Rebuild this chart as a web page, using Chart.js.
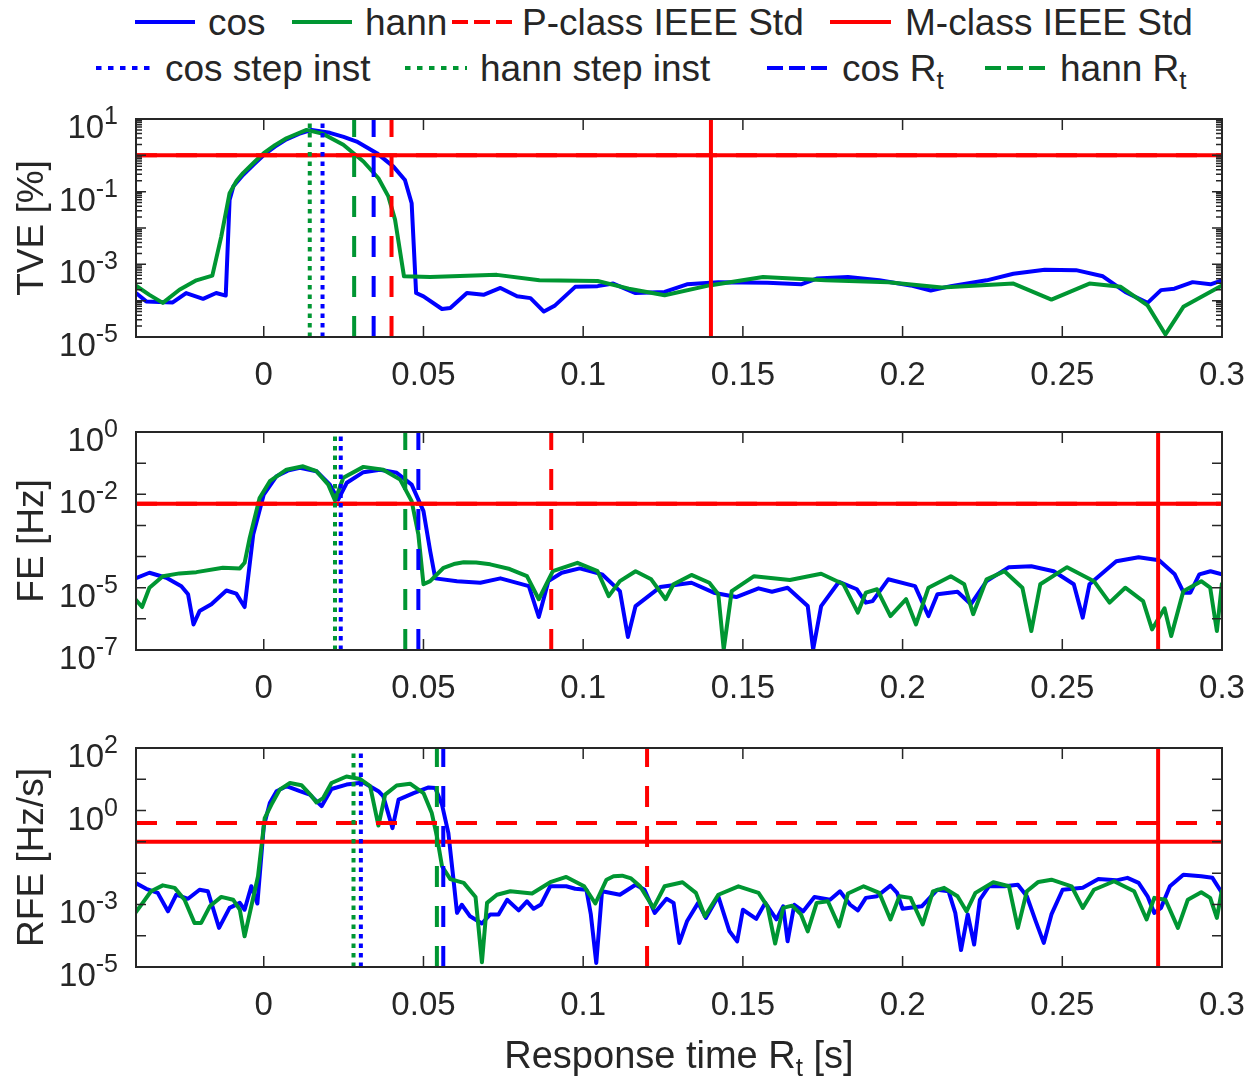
<!DOCTYPE html>
<html lang="en">
<head>
<meta charset="UTF-8">
<title>TVE / FE / RFE response</title>
<script src="https://cdn.jsdelivr.net/npm/chart.js"></script>
<style>
    body { margin: 0; background: #ffffff; }
    #wrap { position: relative; width: 1245px; height: 1081px; overflow: hidden; font-family: "Liberation Sans", Arial, sans-serif; color: #262626; }
    canvas { position: absolute; left: 0; }
    .lg { position: absolute; font-size: 37px; line-height: 37px; white-space: nowrap; }
    .lg sub, #xtitle sub { font-size: 26px; vertical-align: -8px; line-height: 0; }
    #xtitle { position: absolute; left: 136px; width: 1086px; top: 1036px; text-align: center; font-size: 38px; line-height: 38px; white-space: nowrap; }
</style>
</head>
<body>
<div id="wrap">
    <svg width="1245" height="100" style="position:absolute;left:0;top:0">
        <line x1="135" y1="22" x2="195" y2="22" stroke="#0000ff" stroke-width="4"/>
        <line x1="292" y1="22" x2="352" y2="22" stroke="rgb(0,150,50)" stroke-width="4"/>
        <line x1="452" y1="22" x2="512" y2="22" stroke="#ff0000" stroke-width="4" stroke-dasharray="16 6"/>
        <line x1="830" y1="22" x2="891" y2="22" stroke="#ff0000" stroke-width="4"/>
        <line x1="96" y1="68" x2="152" y2="68" stroke="#0000ff" stroke-width="4" stroke-dasharray="5.5 6.5"/>
        <line x1="405" y1="68" x2="467" y2="68" stroke="rgb(0,150,50)" stroke-width="4" stroke-dasharray="5.5 6.5"/>
        <line x1="767" y1="68" x2="828" y2="68" stroke="#0000ff" stroke-width="4" stroke-dasharray="16 6"/>
        <line x1="985" y1="68" x2="1045" y2="68" stroke="rgb(0,150,50)" stroke-width="4" stroke-dasharray="16 6"/>
    </svg>
    <span class="lg" style="left:208px;top:4px">cos</span>
    <span class="lg" style="left:365px;top:4px">hann</span>
    <span class="lg" style="left:522px;top:4px">P-class IEEE Std</span>
    <span class="lg" style="left:905px;top:4px">M-class IEEE Std</span>
    <span class="lg" style="left:165px;top:50px">cos step inst</span>
    <span class="lg" style="left:480px;top:50px">hann step inst</span>
    <span class="lg" style="left:842px;top:50px">cos R<sub>t</sub></span>
    <span class="lg" style="left:1060px;top:50px">hann R<sub>t</sub></span>

    <canvas id="c0" width="1245" height="300" style="top:100px"></canvas>
    <canvas id="c1" width="1245" height="300" style="top:400px"></canvas>
    <canvas id="c2" width="1245" height="381" style="top:700px"></canvas>
    <div id="xtitle">Response time R<sub>t</sub> [s]</div>
</div>

<script>
// ---- data (time in s, values as log10 exponents) ----
const xMin = -0.04, xMax = 0.3;
const xTickVals = [0, 0.05, 0.1, 0.15, 0.2, 0.25, 0.3];
const xTickLabels = ['0', '0.05', '0.1', '0.15', '0.2', '0.25', '0.3'];

const panelTitles = ['TVE [%]', 'FE [Hz]', 'RFE [Hz/s]'];
const yMinExp = [-5, -7, -5];
const yMaxExp = [1, 0, 2];
const yLabelExp = [[1, -1, -3, -5], [0, -2, -5, -7], [2, 0, -3, -5]];

const stepInstCos = [0.0184, 0.0241, 0.0304];
const stepInstHann = [0.0144, 0.0223, 0.0281];
const rtCos = [0.0344, 0.0484, 0.0562];
const rtHann = [0.0283, 0.0443, 0.0542];
const rtPclass = [0.04, 0.09, 0.12];
const rtMclass = [0.14, 0.28, 0.28];
const limitPclass = [1, 0.005, 0.4];
const limitMclass = [1, 0.005, 0.1];

const tveCosT = [-0.040, -0.0368, -0.0285, -0.0243, -0.019, -0.0149, -0.0119, -0.0107, -0.0095, -0.0065, -0.003, 0.0, 0.0035, 0.0071, 0.011, 0.015, 0.0207, 0.025, 0.0291, 0.0354, 0.0406, 0.0442, 0.0463, 0.0477, 0.050, 0.0558, 0.0584, 0.0636, 0.0688, 0.0741, 0.0793, 0.0835, 0.0877, 0.0912, 0.0975, 0.1045, 0.1094, 0.1164, 0.1255, 0.1325, 0.1423, 0.1577, 0.1682, 0.1731, 0.1829, 0.1927, 0.2025, 0.2088, 0.2151, 0.2263, 0.2347, 0.2445, 0.2543, 0.2627, 0.2697, 0.2767, 0.2809, 0.2851, 0.2908, 0.2964, 0.300];
const tveCosExp = [-3.79, -4.02, -4.05, -3.79, -3.95, -3.79, -3.86, -1.23, -0.85, -0.54, -0.24, 0.01, 0.24, 0.44, 0.59, 0.70, 0.62, 0.51, 0.38, 0.06, -0.31, -0.68, -1.32, -3.79, -3.88, -4.23, -4.20, -3.79, -3.84, -3.65, -3.88, -3.93, -4.30, -4.13, -3.62, -3.60, -3.53, -3.79, -3.76, -3.55, -3.49, -3.51, -3.55, -3.39, -3.35, -3.44, -3.58, -3.72, -3.60, -3.44, -3.26, -3.15, -3.16, -3.33, -3.76, -4.06, -3.71, -3.67, -3.49, -3.55, -3.44];

const tveHannT = [-0.040, -0.0358, -0.0316, -0.0264, -0.0211, -0.0161, -0.0133, -0.0107, -0.0085, -0.0065, -0.003, 0.0, 0.0035, 0.0071, 0.0134, 0.0186, 0.0249, 0.0312, 0.0359, 0.039, 0.0411, 0.0439, 0.0521, 0.073, 0.0863, 0.1045, 0.1143, 0.1255, 0.1395, 0.1563, 0.1759, 0.1955, 0.2123, 0.2347, 0.2466, 0.2585, 0.2683, 0.2767, 0.2823, 0.2879, 0.300];
const tveHannExp = [-3.59, -3.84, -4.06, -3.70, -3.44, -3.31, -2.23, -1.04, -0.70, -0.49, -0.19, 0.06, 0.28, 0.47, 0.70, 0.59, 0.29, -0.17, -0.63, -1.13, -1.77, -3.33, -3.35, -3.29, -3.44, -3.46, -3.67, -3.85, -3.58, -3.35, -3.44, -3.49, -3.64, -3.53, -3.97, -3.53, -3.62, -4.13, -4.93, -4.17, -3.58];

const feCosT = [-0.0402, -0.0358, -0.0305, -0.0258, -0.0237, -0.022, -0.0201, -0.0164, -0.0117, -0.0086, -0.006, -0.0033, 0.0, 0.004, 0.0075, 0.0113, 0.0165, 0.0207, 0.0233, 0.026, 0.0312, 0.0364, 0.0416, 0.0463, 0.05, 0.0521, 0.0537, 0.0605, 0.0678, 0.0741, 0.083, 0.0861, 0.0891, 0.0933, 0.0989, 0.1059, 0.1115, 0.114, 0.1164, 0.1241, 0.1339, 0.1409, 0.1479, 0.1549, 0.1591, 0.164, 0.1703, 0.172, 0.1745, 0.1801, 0.1857, 0.1885, 0.1906, 0.1955, 0.2039, 0.2081, 0.2109, 0.2172, 0.2214, 0.2263, 0.2333, 0.2403, 0.2473, 0.2536, 0.2564, 0.2585, 0.2669, 0.2739, 0.2803, 0.2852, 0.288, 0.2901, 0.2929, 0.2964, 0.300];
const feCosExp = [-4.70, -4.52, -4.68, -4.95, -5.21, -6.18, -5.75, -5.53, -5.09, -5.19, -5.62, -3.29, -2.01, -1.42, -1.24, -1.15, -1.26, -1.69, -2.17, -1.63, -1.29, -1.21, -1.31, -1.69, -2.54, -3.82, -4.70, -4.79, -4.84, -4.70, -4.95, -5.94, -4.79, -4.52, -4.38, -4.57, -5.11, -6.58, -5.59, -4.98, -4.84, -5.16, -5.30, -5.02, -5.13, -5.00, -5.59, -6.98, -5.59, -4.81, -5.05, -5.48, -5.43, -4.73, -4.95, -5.91, -5.21, -5.13, -5.53, -4.79, -4.34, -4.31, -4.47, -4.89, -5.96, -4.89, -4.15, -4.02, -4.12, -4.57, -5.16, -5.16, -4.57, -4.47, -4.57];

const feHannT = [-0.0402, -0.0381, -0.0358, -0.0316, -0.0264, -0.0211, -0.0128, -0.0075, -0.006, -0.0044, -0.0013, 0.0019, 0.0071, 0.0123, 0.0165, 0.0202, 0.0223, 0.0249, 0.0312, 0.0374, 0.0427, 0.0463, 0.0484, 0.050, 0.0521, 0.0563, 0.0595, 0.0626, 0.0665, 0.0709, 0.077, 0.0824, 0.0861, 0.0905, 0.0982, 0.1045, 0.108, 0.1115, 0.1164, 0.1213, 0.1258, 0.1283, 0.1339, 0.1395, 0.1423, 0.144, 0.1465, 0.1535, 0.1647, 0.1745, 0.1815, 0.186, 0.1885, 0.192, 0.1962, 0.2011, 0.2042, 0.2081, 0.2151, 0.2193, 0.2221, 0.2263, 0.2319, 0.2375, 0.2403, 0.2431, 0.2515, 0.2599, 0.2648, 0.2697, 0.2753, 0.2781, 0.282, 0.2841, 0.2879, 0.2935, 0.2963, 0.2984, 0.300];
const feHannExp = [-5.37, -5.62, -5.00, -4.63, -4.54, -4.50, -4.36, -4.38, -4.20, -3.40, -2.12, -1.58, -1.21, -1.10, -1.26, -1.69, -2.20, -1.47, -1.12, -1.21, -1.53, -2.22, -3.29, -4.89, -4.79, -4.36, -4.24, -4.18, -4.19, -4.25, -4.40, -4.63, -5.37, -4.47, -4.20, -4.47, -5.27, -4.79, -4.47, -4.73, -5.37, -4.89, -4.59, -4.84, -5.21, -6.98, -5.11, -4.63, -4.75, -4.55, -4.89, -5.80, -5.16, -5.05, -5.91, -5.37, -6.18, -5.00, -4.63, -4.89, -5.85, -4.73, -4.47, -5.00, -6.39, -4.89, -4.34, -4.79, -5.48, -5.00, -5.43, -6.34, -5.66, -6.55, -5.11, -4.79, -5.00, -6.39, -4.84];

const rfeCosT = [-0.0402, -0.0368, -0.0332, -0.03, -0.0274, -0.0237, -0.0201, -0.0175, -0.014, -0.0107, -0.0075, -0.006, -0.0039, -0.002, 0.0, 0.0019, 0.004, 0.0071, 0.0113, 0.0144, 0.0181, 0.0212, 0.0259, 0.0312, 0.0359, 0.0374, 0.0403, 0.0422, 0.0469, 0.0516, 0.0537, 0.0558, 0.0578, 0.0594, 0.0605, 0.062, 0.0646, 0.0683, 0.0709, 0.0735, 0.0762, 0.0798, 0.0824, 0.0845, 0.0868, 0.0897, 0.0947, 0.0975, 0.101, 0.1024, 0.1041, 0.1059, 0.1115, 0.1164, 0.1192, 0.1224, 0.1261, 0.1283, 0.1301, 0.1325, 0.136, 0.1384, 0.1423, 0.1458, 0.1482, 0.15, 0.1542, 0.157, 0.1605, 0.1626, 0.164, 0.1661, 0.1689, 0.1724, 0.1773, 0.1804, 0.1836, 0.186, 0.1885, 0.192, 0.1962, 0.1983, 0.2, 0.206, 0.2109, 0.2144, 0.2165, 0.2183, 0.2204, 0.2224, 0.2242, 0.227, 0.2319, 0.2361, 0.2389, 0.2417, 0.2442, 0.2466, 0.2501, 0.2564, 0.2613, 0.2669, 0.2704, 0.2739, 0.2767, 0.2788, 0.2809, 0.2837, 0.2879, 0.2935, 0.297, 0.3];
const rfeCosExp = [-2.31, -2.50, -2.63, -3.22, -2.69, -2.82, -2.53, -2.58, -3.75, -3.11, -2.95, -3.17, -2.42, -2.97, -0.50, 0.24, 0.62, 0.78, 0.62, 0.51, 0.14, 0.69, 0.83, 0.90, 0.62, 0.46, -0.56, 0.35, 0.56, 0.74, 0.72, 0.19, -0.72, -2.21, -3.27, -3.01, -3.38, -3.61, -3.32, -3.32, -2.85, -3.19, -2.90, -3.14, -3.00, -2.42, -2.42, -2.50, -2.53, -3.32, -4.87, -2.58, -2.69, -2.37, -2.53, -3.27, -2.82, -2.95, -4.23, -3.54, -2.95, -3.43, -2.74, -3.86, -4.18, -3.17, -3.46, -2.95, -3.48, -3.06, -4.18, -3.01, -3.22, -2.76, -2.85, -2.58, -3.01, -3.19, -2.79, -2.74, -2.40, -2.63, -3.14, -3.06, -2.53, -2.58, -3.27, -4.46, -3.32, -4.28, -2.85, -2.42, -2.42, -2.37, -2.74, -3.54, -4.23, -3.32, -2.53, -2.47, -2.19, -2.23, -2.15, -2.31, -2.74, -3.27, -3.11, -2.42, -2.05, -2.10, -2.15, -2.63];

const rfeHannT = [-0.0402, -0.0379, -0.0353, -0.0316, -0.0279, -0.0248, -0.0217, -0.0196, -0.0169, -0.0133, -0.0096, -0.0075, -0.006, -0.0039, -0.0018, 0.0003, 0.0024, 0.005, 0.0082, 0.0118, 0.015, 0.0165, 0.0186, 0.0212, 0.0259, 0.0301, 0.0333, 0.0359, 0.038, 0.0416, 0.0458, 0.05, 0.0526, 0.0542, 0.0558, 0.0584, 0.0626, 0.0663, 0.0683, 0.0699, 0.073, 0.0772, 0.084, 0.0897, 0.0947, 0.1003, 0.1038, 0.1073, 0.1095, 0.1122, 0.115, 0.1178, 0.122, 0.1255, 0.1311, 0.1353, 0.1381, 0.1423, 0.1486, 0.1549, 0.1577, 0.1601, 0.1626, 0.1654, 0.1682, 0.1703, 0.1731, 0.1766, 0.1801, 0.1829, 0.1878, 0.1927, 0.1962, 0.199, 0.2025, 0.2063, 0.2095, 0.213, 0.2172, 0.22, 0.2228, 0.2284, 0.2333, 0.2361, 0.2389, 0.2425, 0.2466, 0.2529, 0.2564, 0.2599, 0.2662, 0.2725, 0.2764, 0.2788, 0.2823, 0.2862, 0.2893, 0.2935, 0.2963, 0.2984, 0.3];
const rfeHannExp = [-3.27, -2.95, -2.58, -2.39, -2.47, -2.85, -3.59, -3.59, -3.06, -2.76, -2.85, -3.17, -4.02, -3.06, -2.10, -0.24, 0.19, 0.67, 0.88, 0.81, 0.46, 0.26, 0.40, 0.88, 1.09, 1.01, 0.78, -0.48, 0.51, 0.80, 0.86, 0.56, -0.08, -0.82, -1.78, -2.19, -2.31, -2.76, -4.85, -2.95, -2.69, -2.58, -2.65, -2.29, -2.12, -2.42, -2.97, -2.21, -2.10, -2.08, -2.17, -2.42, -3.11, -2.42, -2.29, -2.63, -3.38, -2.69, -2.42, -2.63, -3.06, -4.25, -3.11, -3.04, -3.32, -3.86, -2.95, -2.90, -3.70, -2.65, -2.42, -2.63, -3.48, -2.74, -2.79, -3.64, -2.58, -2.47, -2.74, -3.22, -2.63, -2.29, -2.42, -3.75, -2.58, -2.28, -2.21, -2.42, -3.11, -2.53, -2.26, -2.58, -3.48, -2.79, -2.85, -3.75, -2.85, -2.61, -2.79, -3.43, -2.53];

// ---- styling ----
const FONT = '"Liberation Sans", Arial, sans-serif';
const axisColor = '#262626';
const blue = '#0000ff';
const green = 'rgb(0,150,50)';
const red = '#ff0000';
const dashed = [21, 19];
const dotted = [4.5, 5];

const cosSeries = [[tveCosT, tveCosExp], [feCosT, feCosExp], [rfeCosT, rfeCosExp]];
const hannSeries = [[tveHannT, tveHannExp], [feHannT, feHannExp], [rfeHannT, rfeHannExp]];

// canvas layout of the three panels
const layouts = [
    { id: 'c0', padTop: 19, xH: 63, minor: true },
    { id: 'c1', padTop: 32, xH: 50, minor: false },
    { id: 'c2', padTop: 48, xH: 114, minor: false }
];

function curve(ts, es) {
    return ts.map((t, i) => ({ x: t, y: Math.pow(10, es[i]) }));
}

const axesDecor = {
    id: 'axesDecor',
    afterDatasetsDraw(chart, args, o) {
        const ctx = chart.ctx;
        const a = chart.chartArea;
        const xs = chart.scales.x, ys = chart.scales.y;
        ctx.save();
        ctx.setLineDash([]);
        ctx.strokeStyle = axisColor;
        ctx.lineWidth = 1.5;
        ctx.beginPath();
        xTickVals.forEach(v => {
            const px = xs.getPixelForValue(v);
            ctx.moveTo(px, a.bottom); ctx.lineTo(px, a.bottom - 11);
            ctx.moveTo(px, a.top); ctx.lineTo(px, a.top + 11);
        });
        for (let e = o.minExp; e <= o.maxExp; e++) {
            const py = ys.getPixelForValue(Math.pow(10, e));
            ctx.moveTo(a.left, py); ctx.lineTo(a.left + 10, py);
            ctx.moveTo(a.right, py); ctx.lineTo(a.right - 10, py);
            if (o.minor && e < o.maxExp) {
                for (let m = 2; m <= 9; m++) {
                    const pm = ys.getPixelForValue(m * Math.pow(10, e));
                    ctx.moveTo(a.left, pm); ctx.lineTo(a.left + 6, pm);
                    ctx.moveTo(a.right, pm); ctx.lineTo(a.right - 6, pm);
                }
            }
        }
        ctx.stroke();
        ctx.lineWidth = 2;
        ctx.strokeRect(a.left, a.top, a.right - a.left, a.bottom - a.top);

        // y tick labels as 10^n
        ctx.fillStyle = axisColor;
        ctx.textAlign = 'left';
        ctx.textBaseline = 'alphabetic';
        o.labelExp.forEach(e => {
            const py = ys.getPixelForValue(Math.pow(10, e));
            ctx.font = '33px ' + FONT;
            const w1 = ctx.measureText('10').width;
            ctx.font = '25px ' + FONT;
            const w2 = ctx.measureText(String(e)).width;
            const x0 = a.left - 18 - w1 - w2;
            ctx.font = '33px ' + FONT;
            ctx.fillText('10', x0, py + 19);
            ctx.font = '25px ' + FONT;
            ctx.fillText(String(e), x0 + w1, py + 5);
        });
        ctx.restore();
    }
};

layouts.forEach((L, k) => {
    const lo = Math.pow(10, yMinExp[k]), hi = Math.pow(10, yMaxExp[k]);
    const base = { fill: false, pointRadius: 0, borderWidth: 4, tension: 0 };
    const datasets = [
        { ...base, label: 'cos', data: curve(cosSeries[k][0], cosSeries[k][1]), borderColor: blue, borderJoinStyle: 'round', order: 9 },
        { ...base, label: 'hann', data: curve(hannSeries[k][0], hannSeries[k][1]), borderColor: green, borderJoinStyle: 'round', order: 8 },
        { ...base, label: 'P-class IEEE Std', data: [{ x: xMin, y: limitPclass[k] }, { x: xMax, y: limitPclass[k] }], borderColor: red, borderDash: dashed, order: 7 },
        { ...base, label: 'P-class IEEE Std', data: [{ x: rtPclass[k], y: lo }, { x: rtPclass[k], y: hi }], borderColor: red, borderDash: dashed, order: 7 },
        { ...base, label: 'M-class IEEE Std', data: [{ x: xMin, y: limitMclass[k] }, { x: xMax, y: limitMclass[k] }], borderColor: red, order: 6 },
        { ...base, label: 'M-class IEEE Std', data: [{ x: rtMclass[k], y: lo }, { x: rtMclass[k], y: hi }], borderColor: red, order: 6 },
        { ...base, label: 'cos step inst', data: [{ x: stepInstCos[k], y: lo }, { x: stepInstCos[k], y: hi }], borderColor: blue, borderDash: dotted, order: 5 },
        { ...base, label: 'hann step inst', data: [{ x: stepInstHann[k], y: lo }, { x: stepInstHann[k], y: hi }], borderColor: green, borderDash: dotted, order: 4 },
        { ...base, label: 'cos Rt', data: [{ x: rtCos[k], y: lo }, { x: rtCos[k], y: hi }], borderColor: blue, borderDash: dashed, order: 3 },
        { ...base, label: 'hann Rt', data: [{ x: rtHann[k], y: lo }, { x: rtHann[k], y: hi }], borderColor: green, borderDash: dashed, order: 2 }
    ];

    new Chart(document.getElementById(L.id), {
        type: 'line',
        data: { datasets: datasets },
        options: {
            responsive: false,
            animation: false,
            devicePixelRatio: 1,
            layout: { padding: { top: L.padTop, right: 23, left: 0, bottom: 0 } },
            plugins: {
                legend: { display: false },
                tooltip: { enabled: false },
                axesDecor: { minExp: yMinExp[k], maxExp: yMaxExp[k], labelExp: yLabelExp[k], minor: L.minor }
            },
            scales: {
                x: {
                    type: 'linear',
                    min: xMin,
                    max: xMax,
                    grid: { display: false, drawTicks: false },
                    border: { display: false },
                    afterBuildTicks: s => { s.ticks = xTickVals.map(v => ({ value: v })); },
                    afterFit: s => { s.height = L.xH; s.paddingLeft = 0; s.paddingRight = 0; },
                    ticks: {
                        font: { family: FONT, size: 33 },
                        color: axisColor,
                        padding: 19,
                        maxRotation: 0,
                        autoSkip: false,
                        callback: (v, i) => xTickLabels[i]
                    }
                },
                y: {
                    type: 'logarithmic',
                    min: lo,
                    max: hi,
                    grid: { display: false, drawTicks: false },
                    border: { display: false },
                    ticks: { display: false },
                    afterFit: s => { s.width = 136; s.paddingTop = 0; s.paddingBottom = 0; },
                    title: {
                        display: true,
                        text: panelTitles[k],
                        font: { family: FONT, size: 37 },
                        color: axisColor,
                        padding: { top: 11, bottom: 0 }
                    }
                }
            }
        },
        plugins: [axesDecor]
    });
});
</script>
</body>
</html>
